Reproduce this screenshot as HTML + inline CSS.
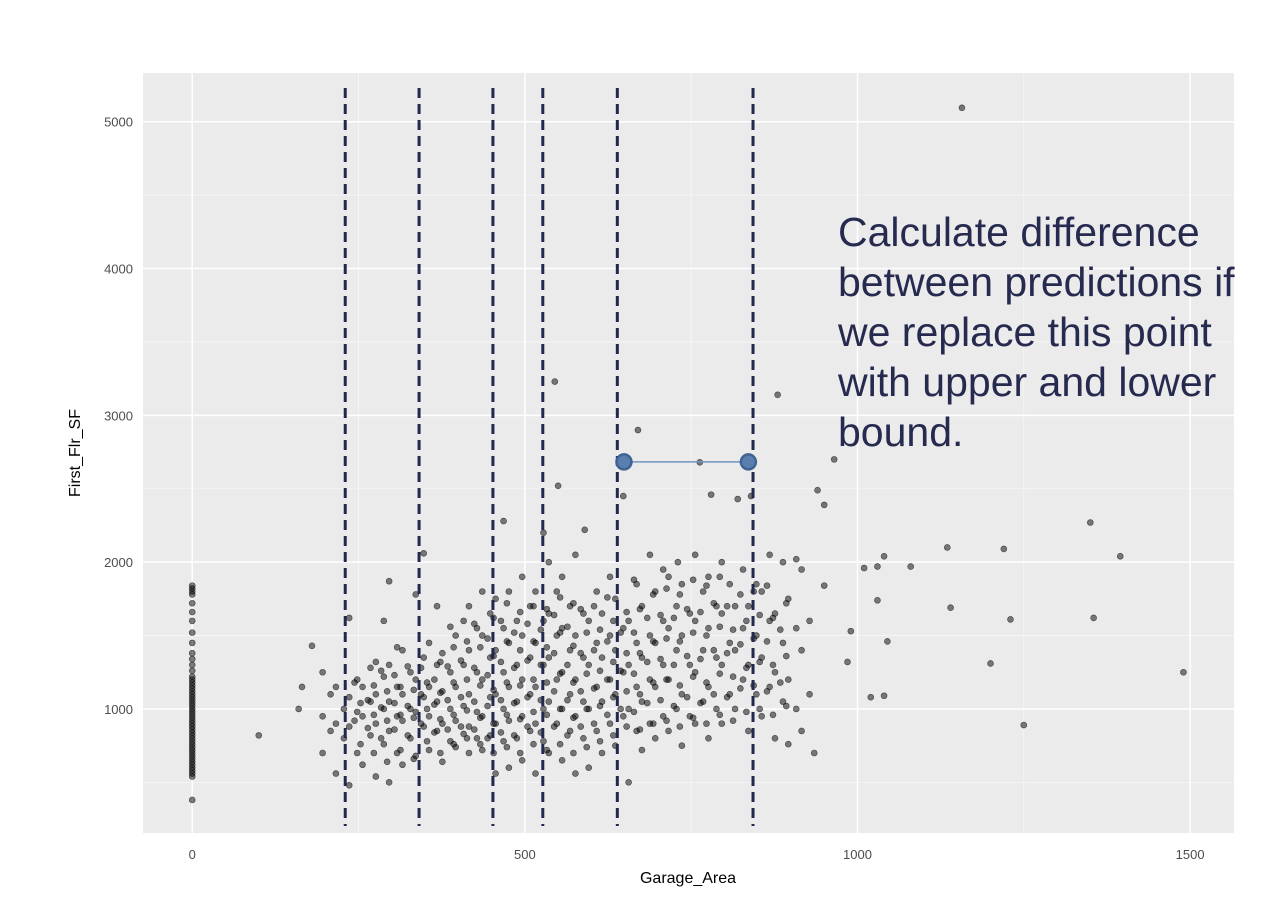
<!DOCTYPE html>
<html><head><meta charset="utf-8"><style>
body{margin:0;background:#fff;}
svg{display:block;font-family:"Liberation Sans",sans-serif;}
</style></head><body>
<svg id="chart" width="1270" height="902">
<rect x="143" y="73" width="1091" height="760" fill="#ebebeb"/>
<g id="grid"></g>
<g id="pts"></g>
<g id="cuts"></g>
<g id="hl"></g>
<g id="axes"></g>
<text x="80" y="453" transform="rotate(-90 80 453)" text-anchor="middle" font-size="16" fill="#000">First_Flr_SF</text>
<text x="688" y="883" text-anchor="middle" font-size="16" fill="#000">Garage_Area</text>
<text font-size="41" fill="#262a4f">
<tspan x="838" y="246">Calculate difference</tspan>
<tspan x="838" y="296">between predictions if</tspan>
<tspan x="838" y="346">we replace this point</tspan>
<tspan x="838" y="396">with upper and lower</tspan>
<tspan x="838" y="446">bound.</tspan>
</text>
</svg>
<script>
const xTicks=[0,500,1000,1500];
const xMinor=[250,750,1250];
const yTicks=[1000,2000,3000,4000,5000];
const yMinor=[500,1500,2500,3500,4500];
const cutPoints=[230,341,452,527,639,843];
const boundX=[649,836];
const boundY=2683;
const zeroColumn=[380,540,560,580,600,620,640,660,680,700,720,740,760,780,800,820,840,860,880,900,920,940,960,980,1000,1020,1040,1060,1080,1100,1120,1140,1160,1180,1200,1220,1260,1300,1340,1380,1450,1520,1600,1660,1720,1780,1800,1820,1840];
const cloudX=[200,220,240,260,280,300,320,340,360,380,400,420,440,460,480,500,520,540,560,580,600,620,640,660,680,700,720,740,760,780,800,820,840,860,880,900,920];
const cloudY=[
[700,850,950,1100,1250],
[560,800,900,1000,1150],
[480,700,880,980,1080,1200,1620],
[620,820,950,1050,1150,1280],
[540,760,900,1000,1100,1220,1320,1600],
[500,700,850,950,1050,1150,1300,1420,1870],
[620,800,920,1000,1100,1250,1400],
[680,880,980,1080,1200,1350,1780,2060],
[720,850,950,1050,1150,1300,1450,1700],
[640,780,900,1000,1120,1250,1380,1560],
[740,830,920,1020,1150,1300,1500,1600],
[700,800,880,980,1100,1250,1400,1550,1700],
[720,820,950,1080,1200,1350,1500,1650,1800],
[560,780,900,1000,1100,1250,1400,1550,1750,2280],
[600,800,920,1050,1150,1300,1450,1600,1800],
[650,850,950,1100,1200,1350,1500,1700,1900],
[560,780,900,1000,1150,1300,1450,1600,1800,2200],
[700,900,1050,1200,1350,1500,1650,1800,2000],
[650,850,1000,1100,1250,1400,1550,1700,1900],
[560,800,950,1050,1200,1350,1500,1650,2050],
[600,850,1000,1150,1300,1450,1600,1800],
[700,900,1050,1200,1350,1500,1650,1900],
[750,950,1100,1250,1400,1550,1750,2450],
[500,850,1000,1150,1300,1450,1600,1850],
[720,900,1050,1200,1350,1500,1700,2050],
[800,950,1150,1300,1450,1600,1800,1950],
[850,1000,1200,1400,1550,1700,1900],
[750,950,1100,1300,1500,1650,1850],
[900,1050,1250,1400,1600,1800,2050],
[800,1000,1150,1350,1550,1700,1900],
[900,1100,1300,1450,1650,1850,2000],
[1000,1200,1400,1550,1700,1950],
[850,1100,1300,1500,1700,1850],
[950,1150,1350,1600,1800,2050],
[800,1050,1250,1450,1650,2000],
[760,1000,1200,1550,1750,2020],
[850,1100,1400,1600,1950]];
const cloudX2=[250,270,290,310,330,350,370,390,410,430,450,470,490,510,530,550,570,590,610,630,650,670,690,710,730,750,770,790,810,830,850,870,890];
const cloudY2=[
[760,920,1040,1180],
[700,870,960,1060,1160],
[640,800,920,1010,1120,1260],
[720,860,960,1040,1150,1230],
[660,820,940,1020,1130,1290],
[780,900,1000,1100,1180,1280],
[700,840,930,1030,1110,1200,1320],
[760,860,960,1060,1180,1290,1420],
[800,880,990,1080,1200,1330,1460],
[760,860,940,1050,1160,1280,1420,1580],
[700,800,900,1020,1130,1230,1360,1480,1620],
[740,840,960,1060,1180,1320,1460,1600,1720],
[700,820,930,1040,1160,1280,1400,1520,1660],
[760,880,980,1080,1200,1330,1460,1580,1700],
[720,840,960,1060,1180,1300,1420,1540,1680],
[760,880,1000,1120,1240,1380,1520,1640,1760],
[700,820,940,1060,1180,1300,1430,1560,1720],
[740,880,1000,1120,1240,1380,1520,1680],
[780,900,1020,1140,1260,1400,1540,1700],
[820,960,1080,1200,1320,1460,1600,1760],
[880,1000,1120,1260,1380,1520,1660],
[860,980,1100,1240,1380,1520,1680,1880],
[900,1040,1180,1320,1460,1620,1780],
[920,1060,1200,1340,1480,1640,1820],
[880,1020,1160,1300,1460,1620,1780],
[940,1080,1220,1360,1520,1680,1880],
[900,1040,1180,1340,1500,1660,1840],
[960,1100,1240,1400,1560,1720,1900],
[920,1080,1220,1380,1540,1700],
[980,1140,1280,1440,1600,1780],
[1000,1160,1320,1480,1640,1800],
[960,1120,1300,1460,1620,1840],
[1020,1180,1360,1540,1720]];
const outX=[1157,545,670,880,965,1350,1395,1355,1490,1250,1220,1230,1200,1135,1140,1080,1040,1030,1040,1045,1020,1030,1010,990,985,950,950,935,940,780,820,840,730,550,590,100,165,180,160,763];
const outY=[5095,3230,2900,3140,2700,2270,2040,1620,1250,890,2090,1610,1310,2100,1690,1970,2040,1970,1090,1460,1080,1740,1960,1530,1320,1840,2390,700,2490,2460,2430,2450,2000,2520,2220,820,1150,1430,1000,2680];

const x0=143,x1=1234,y0=833,y1=73,dx0=-74,dx1=1566,dy0=155,dy1=5332;
const sx=v=>x0+(v-dx0)/(dx1-dx0)*(x1-x0);
const sy=v=>y0-(v-dy0)/(dy1-dy0)*(y0-y1);
const NS='http://www.w3.org/2000/svg';
function mk(tag,attrs,parent){const e=document.createElementNS(NS,tag);for(const k in attrs)e.setAttribute(k,attrs[k]);parent.appendChild(e);return e;}
const grid=document.getElementById('grid'),axes=document.getElementById('axes');
xMinor.forEach(v=>{const l=mk('line',{x1:sx(v),x2:sx(v),y1:y1,y2:y0,stroke:'#f7f7f7','stroke-width':0.8},grid);

});
yMinor.forEach(v=>{const l=mk('line',{x1:x0,x2:x1,y1:sy(v),y2:sy(v),stroke:'#f7f7f7','stroke-width':0.8},grid);

});
xTicks.forEach(v=>{const l=mk('line',{x1:sx(v),x2:sx(v),y1:y1,y2:y0,stroke:'#fff','stroke-width':1.5},grid);


const t=mk('text',{x:sx(v),y:y0+26,'text-anchor':'middle','font-size':13,fill:'#4d4d4d'},axes);t.textContent=v;

});
yTicks.forEach(v=>{const l=mk('line',{x1:x0,x2:x1,y1:sy(v),y2:sy(v),stroke:'#fff','stroke-width':1.5},grid);


const t=mk('text',{x:x0-10,y:sy(v)+5,'text-anchor':'end','font-size':13,fill:'#4d4d4d'},axes);t.textContent=v;

});
const pts=document.getElementById('pts');
function dot(x,y){const c=mk('circle',{cx:sx(x),cy:sy(y),r:3,fill:'rgba(0,0,0,0.5)',stroke:'rgba(0,0,0,0.6)','stroke-width':0.6},pts);

}
zeroColumn.forEach(y=>dot(0,y));
cloudX.forEach((x,i)=>cloudY[i].forEach((y,j)=>dot(x+(j%2?8:-4),y)));
cloudX2.forEach((x,i)=>cloudY2[i].forEach((y,j)=>dot(x+(j%2?-6:3),y)));
outX.forEach((x,i)=>dot(x,outY[i]));
const cuts=document.getElementById('cuts');
cutPoints.forEach(v=>{const l=mk('line',{x1:sx(v),x2:sx(v),y1:88,y2:826,stroke:'#23284d','stroke-width':3,'stroke-dasharray':'10 6'},cuts);

});
const hl=document.getElementById('hl');
const seg=mk('line',{x1:sx(boundX[0]),x2:sx(boundX[1]),y1:sy(boundY),y2:sy(boundY),stroke:'#6f95c4','stroke-width':1.5},hl);


boundX.forEach(v=>{const c=mk('circle',{cx:sx(v),cy:sy(boundY),r:7.5,fill:'#5a7fae',stroke:'#3f6393','stroke-width':2.5},hl);

});
</script>
</body></html>
